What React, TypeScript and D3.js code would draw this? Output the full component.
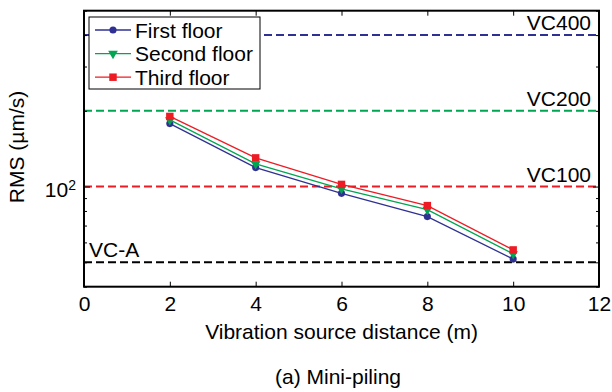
import { select, scaleLinear, scaleLog, axisBottom, axisTop, axisLeft, axisRight, line, symbol, symbolCircle, symbolSquare, symbolTriangle } from 'd3';
import { useEffect, useRef } from 'react';

// distances (m) and RMS velocity (µm/s) per floor
const distances = [2, 4, 6, 8, 10];
const firstFloor = [178, 119, 94, 76, 51.5];
const secondFloor = [184, 123, 98, 81, 54];
const thirdFloor = [190, 130, 102, 84, 56];

const seriesNames = ['First floor', 'Second floor', 'Third floor'];
const seriesColors = ['#2e3192', '#00a651', '#ed1c24'];

const criteriaLabels = ['VC400', 'VC200', 'VC100', 'VC-A'];
const criteriaValues = [400, 200, 100, 50];
const criteriaColors = ['#2e3192', '#00a651', '#ed1c24', '#000000'];

const xTicks = [0, 2, 4, 6, 8, 10, 12];
const yMinorTicks = [40, 50, 60, 70, 80, 90, 200, 300, 400, 500];
const yMajorTicks = [100];

const W = 612;
const H = 392;
const FONT = '"Liberation Sans", Arial, sans-serif';
const FS = 21;

export default function App() {
  const svgRef = useRef<SVGSVGElement | null>(null);

  useEffect(() => {
    if (!svgRef.current) return;
    const svg = select(svgRef.current);
    svg.selectAll('*').remove();

    const left = 84, right = 599, top = 10.7, bottom = 286.7;
    const x = scaleLinear().domain([0, 12]).range([left, right]);
    const y = scaleLog().domain([40, 500]).range([bottom, top]);

    const addText = (tx: number, ty: number, str: string, anchor = 'start', rotate = 0) =>
      svg.append('text')
        .attr('transform', `translate(${tx},${ty}) rotate(${rotate})`)
        .attr('text-anchor', anchor)
        .attr('font-family', FONT)
        .attr('font-size', FS)
        .text(str);

    // criteria lines
    criteriaValues.forEach((v, i) => {
      svg.append('line')
        .attr('x1', left).attr('x2', right)
        .attr('y1', y(v)).attr('y2', y(v))
        .attr('stroke', criteriaColors[i])
        .attr('stroke-width', 2)
        .attr('stroke-dasharray', '8,4');
      const isLeft = criteriaLabels[i] === 'VC-A';
      addText(isLeft ? left + 5 : right - 8, y(v) - 5, criteriaLabels[i], isLeft ? 'start' : 'end');
    });

    // series
    const allSeries = [firstFloor, secondFloor, thirdFloor];
    const shapes = [symbolCircle, symbolTriangle, symbolSquare];
    const sizes = [40, 40, 56];
    const lineGen = line<number>().x((_, i) => x(distances[i])).y(d => y(d));
    allSeries.forEach((vals, s) => {
      svg.append('path')
        .attr('d', lineGen(vals))
        .attr('fill', 'none')
        .attr('stroke', seriesColors[s])
        .attr('stroke-width', 1.3);
      svg.selectAll(null)
        .data(vals)
        .enter()
        .append('path')
        .attr('d', symbol().type(shapes[s]).size(sizes[s])())
        .attr('transform', (d, i) => `translate(${x(distances[i])},${y(d)})${s === 1 ? ' rotate(180)' : ''}`)
        .attr('fill', seriesColors[s]);
    });

    // axes with inward ticks
    const styleAxis = (g: any) => {
      g.select('.domain').remove();
      g.selectAll('line').attr('stroke', '#000').attr('stroke-width', 1);
      g.selectAll('text')
        .attr('font-family', FONT).attr('font-size', FS).attr('fill', '#000');
    };
    svg.append('g').attr('transform', `translate(0,${bottom})`)
      .call(axisBottom(x).tickValues(xTicks).tickFormat((d: any) => String(d)).tickSizeInner(-5).tickPadding(9))
      .call(styleAxis);
    svg.append('g').attr('transform', `translate(0,${top})`)
      .call(axisTop(x).tickValues(xTicks).tickFormat(() => '').tickSizeInner(-5))
      .call(styleAxis);
    svg.append('g').attr('transform', `translate(${left},0)`)
      .call(axisLeft(y).tickValues(yMinorTicks).tickFormat(() => '').tickSizeInner(-3))
      .call(styleAxis);
    svg.append('g').attr('transform', `translate(${right},0)`)
      .call(axisRight(y).tickValues(yMinorTicks).tickFormat(() => '').tickSizeInner(-3))
      .call(styleAxis);
    svg.append('g').attr('transform', `translate(${left},0)`)
      .call(axisLeft(y).tickValues(yMajorTicks).tickFormat(() => '').tickSizeInner(-6))
      .call(styleAxis);
    svg.append('g').attr('transform', `translate(${right},0)`)
      .call(axisRight(y).tickValues(yMajorTicks).tickFormat(() => '').tickSizeInner(-6))
      .call(styleAxis);

    // 10^2 label
    yMajorTicks.forEach(v => {
      const t = addText(left - 8, y(v) + 10.7, '', 'end');
      t.append('tspan').text('10');
      t.append('tspan').attr('font-size', 14).attr('dy', -7).text(String(Math.round(Math.log10(v))));
    });

    // frame
    svg.append('rect')
      .attr('x', left).attr('y', top)
      .attr('width', right - left).attr('height', bottom - top)
      .attr('fill', 'none').attr('stroke', '#000').attr('stroke-width', 2);

    // legend
    const lg = svg.append('g');
    lg.append('rect')
      .attr('x', 89).attr('y', 17).attr('width', 171).attr('height', 72)
      .attr('fill', '#fff').attr('stroke', '#000').attr('stroke-width', 1);
    seriesNames.forEach((name, s) => {
      const ly = 30 + s * 23.6;
      lg.append('line').attr('x1', 95).attr('x2', 131).attr('y1', ly).attr('y2', ly)
        .attr('stroke', seriesColors[s]).attr('stroke-width', 1.3);
      lg.append('path')
        .attr('d', symbol().type(shapes[s]).size(sizes[s])())
        .attr('transform', `translate(113,${ly})${s === 1 ? ' rotate(180)' : ''}`)
        .attr('fill', seriesColors[s]);
      addText(135, ly + 7.5, name);
    });

    // titles
    addText((left + right) / 2, 339, 'Vibration source distance (m)', 'middle');
    addText(24, 147, 'RMS (µm/s)', 'middle', -90);
    addText(338, 384, '(a) Mini-piling', 'middle');
  }, []);

  return (
    <svg ref={svgRef} width={W} height={H}
      style={{ position: 'absolute', left: 0, top: 0, background: '#fff' }} />
  );
}
